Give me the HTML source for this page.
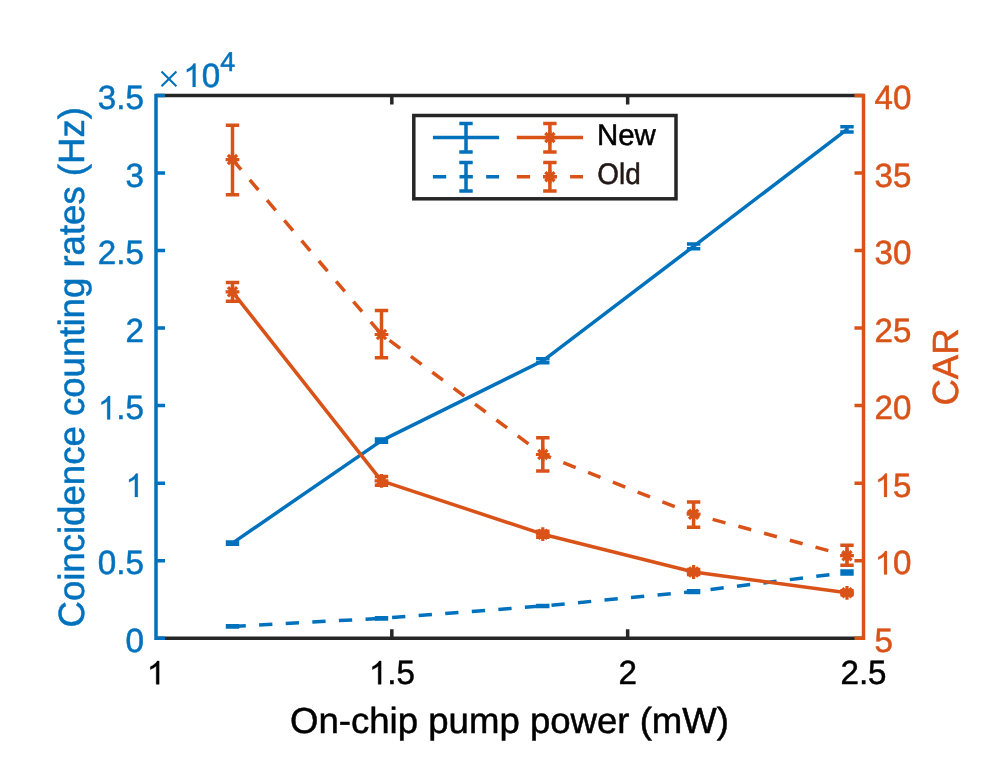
<!DOCTYPE html><html><head><meta charset="utf-8"><title>chart</title><style>html,body{margin:0;padding:0;background:#fff}svg{display:block;will-change:transform}text{font-family:"Liberation Sans",sans-serif;stroke-width:0.5px;text-rendering:geometricPrecision}</style></head><body>
<svg width="996" height="771" viewBox="0 0 996 771">
<rect width="996" height="771" fill="#fff"/>
<polyline points="232.50,543.10 381.50,440.60 542.80,360.80 693.60,246.30 847.00,129.40" stroke="#0072BD" stroke-width="3.5" fill="none" stroke-linejoin="round"/>
<path d="M232.50 542.00V544.20M225.80 542.00H239.20M225.80 544.20H239.20" stroke="#0072BD" stroke-width="3.5" fill="none"/>
<path d="M381.50 439.00V442.20M374.80 439.00H388.20M374.80 442.20H388.20" stroke="#0072BD" stroke-width="3.5" fill="none"/>
<path d="M542.80 358.75V362.85M536.10 358.75H549.50M536.10 362.85H549.50" stroke="#0072BD" stroke-width="3.5" fill="none"/>
<path d="M693.60 243.90V248.70M686.90 243.90H700.30M686.90 248.70H700.30" stroke="#0072BD" stroke-width="3.5" fill="none"/>
<path d="M847.00 126.70V132.10M840.30 126.70H853.70M840.30 132.10H853.70" stroke="#0072BD" stroke-width="3.5" fill="none"/>
<polyline points="232.50,626.40 381.50,618.30 542.80,606.00 693.60,591.60 847.00,572.50" stroke="#0072BD" stroke-width="3.5" fill="none" stroke-linejoin="round" stroke-dasharray="13.3 13.34"/>
<path d="M232.50 625.80V627.00M225.80 625.80H239.20M225.80 627.00H239.20" stroke="#0072BD" stroke-width="3.5" fill="none"/>
<path d="M381.50 617.70V618.90M374.80 617.70H388.20M374.80 618.90H388.20" stroke="#0072BD" stroke-width="3.5" fill="none"/>
<path d="M542.80 605.40V606.60M536.10 605.40H549.50M536.10 606.60H549.50" stroke="#0072BD" stroke-width="3.5" fill="none"/>
<path d="M693.60 590.80V592.40M686.90 590.80H700.30M686.90 592.40H700.30" stroke="#0072BD" stroke-width="3.5" fill="none"/>
<path d="M847.00 571.00V574.00M840.30 571.00H853.70M840.30 574.00H853.70" stroke="#0072BD" stroke-width="3.5" fill="none"/>
<polyline points="232.50,291.80 381.50,480.80 542.80,534.20 693.60,572.00 847.00,592.80" stroke="#D95319" stroke-width="3.5" fill="none" stroke-linejoin="round"/>
<path d="M232.50 282.40V301.20M225.80 282.40H239.20M225.80 301.20H239.20" stroke="#D95319" stroke-width="3.5" fill="none"/>
<path d="M225.60 291.80L239.40 291.80M227.90 287.20L237.10 296.40M232.50 284.90L232.50 298.70M237.10 287.20L227.90 296.40" stroke="#D95319" stroke-width="3.2" fill="none"/>
<path d="M381.50 476.45V485.15M374.80 476.45H388.20M374.80 485.15H388.20" stroke="#D95319" stroke-width="3.5" fill="none"/>
<path d="M374.60 480.80L388.40 480.80M376.90 476.20L386.10 485.40M381.50 473.90L381.50 487.70M386.10 476.20L376.90 485.40" stroke="#D95319" stroke-width="3.2" fill="none"/>
<path d="M542.80 531.20V537.20M536.10 531.20H549.50M536.10 537.20H549.50" stroke="#D95319" stroke-width="3.5" fill="none"/>
<path d="M535.90 534.20L549.70 534.20M538.20 529.60L547.40 538.80M542.80 527.30L542.80 541.10M547.40 529.60L538.20 538.80" stroke="#D95319" stroke-width="3.2" fill="none"/>
<path d="M693.60 569.50V574.50M686.90 569.50H700.30M686.90 574.50H700.30" stroke="#D95319" stroke-width="3.5" fill="none"/>
<path d="M686.70 572.00L700.50 572.00M689.00 567.40L698.20 576.60M693.60 565.10L693.60 578.90M698.20 567.40L689.00 576.60" stroke="#D95319" stroke-width="3.2" fill="none"/>
<path d="M847.00 590.80V594.80M840.30 590.80H853.70M840.30 594.80H853.70" stroke="#D95319" stroke-width="3.5" fill="none"/>
<path d="M840.10 592.80L853.90 592.80M842.40 588.20L851.60 597.40M847.00 585.90L847.00 599.70M851.60 588.20L842.40 597.40" stroke="#D95319" stroke-width="3.2" fill="none"/>
<polyline points="232.50,159.60 381.50,334.50 542.80,454.50 693.60,514.20 847.00,555.70" stroke="#D95319" stroke-width="3.5" fill="none" stroke-linejoin="round" stroke-dasharray="13.3 13.34"/>
<path d="M232.50 125.20V194.70M225.80 125.20H239.20M225.80 194.70H239.20" stroke="#D95319" stroke-width="3.5" fill="none"/>
<path d="M225.60 159.60L239.40 159.60M227.90 155.00L237.10 164.20M232.50 152.70L232.50 166.50M237.10 155.00L227.90 164.20" stroke="#D95319" stroke-width="3.2" fill="none"/>
<path d="M381.50 310.50V357.80M374.80 310.50H388.20M374.80 357.80H388.20" stroke="#D95319" stroke-width="3.5" fill="none"/>
<path d="M374.60 334.50L388.40 334.50M376.90 329.90L386.10 339.10M381.50 327.60L381.50 341.40M386.10 329.90L376.90 339.10" stroke="#D95319" stroke-width="3.2" fill="none"/>
<path d="M542.80 437.70V471.00M536.10 437.70H549.50M536.10 471.00H549.50" stroke="#D95319" stroke-width="3.5" fill="none"/>
<path d="M535.90 454.50L549.70 454.50M538.20 449.90L547.40 459.10M542.80 447.60L542.80 461.40M547.40 449.90L538.20 459.10" stroke="#D95319" stroke-width="3.2" fill="none"/>
<path d="M693.60 502.00V527.30M686.90 502.00H700.30M686.90 527.30H700.30" stroke="#D95319" stroke-width="3.5" fill="none"/>
<path d="M686.70 514.20L700.50 514.20M689.00 509.60L698.20 518.80M693.60 507.30L693.60 521.10M698.20 509.60L689.00 518.80" stroke="#D95319" stroke-width="3.2" fill="none"/>
<path d="M847.00 545.30V565.30M840.30 545.30H853.70M840.30 565.30H853.70" stroke="#D95319" stroke-width="3.5" fill="none"/>
<path d="M840.10 555.70L853.90 555.70M842.40 551.10L851.60 560.30M847.00 548.80L847.00 562.60M851.60 551.10L842.40 560.30" stroke="#D95319" stroke-width="3.2" fill="none"/>
<path d="M156.0 638.2H863.5M156.0 95.5H863.5" stroke="#262626" stroke-width="3.5" fill="none"/>
<path d="M391.83 638.2V629.2M391.83 95.5V104.5M627.67 638.2V629.2M627.67 95.5V104.5" stroke="#262626" stroke-width="3.5" fill="none"/>
<path d="M156.0 639.95V93.75M156.0 638.20H165.0M156.0 560.67H165.0M156.0 483.14H165.0M156.0 405.61H165.0M156.0 328.09H165.0M156.0 250.56H165.0M156.0 173.03H165.0M156.0 95.50H165.0" stroke="#0072BD" stroke-width="3.5" fill="none"/>
<path d="M863.5 639.95V93.75M863.5 638.20H854.5M863.5 560.67H854.5M863.5 483.14H854.5M863.5 405.61H854.5M863.5 328.09H854.5M863.5 250.56H854.5M863.5 173.03H854.5M863.5 95.50H854.5" stroke="#D95319" stroke-width="3.5" fill="none"/>
<g transform="translate(143.90 652.00) scale(1 1.015)" fill="#0072BD" stroke="#0072BD" stroke-width="0.25"><text font-size="33.2"><tspan x="-18.47">0</tspan></text></g>
<g transform="translate(143.90 574.47) scale(1 1.015)" fill="#0072BD" stroke="#0072BD" stroke-width="0.25"><text font-size="33.2"><tspan x="-46.15">0.5</tspan></text></g>
<g transform="translate(143.90 496.94) scale(1 1.015)" fill="#0072BD" stroke="#0072BD" stroke-width="0.25"><path transform="translate(-18.47 0) scale(0.01621 -0.01564)" d="M763 0H583V1147Q518 1085 412.5 1023T223 930V1104Q374 1175 487 1276T647 1472H763Z" vector-effect="non-scaling-stroke"/></g>
<g transform="translate(143.90 419.41) scale(1 1.015)" fill="#0072BD" stroke="#0072BD" stroke-width="0.25"><text font-size="33.2"><tspan x="-27.69">.5</tspan></text><path transform="translate(-46.15 0) scale(0.01621 -0.01564)" d="M763 0H583V1147Q518 1085 412.5 1023T223 930V1104Q374 1175 487 1276T647 1472H763Z" vector-effect="non-scaling-stroke"/></g>
<g transform="translate(143.90 341.89) scale(1 1.015)" fill="#0072BD" stroke="#0072BD" stroke-width="0.25"><text font-size="33.2"><tspan x="-18.47">2</tspan></text></g>
<g transform="translate(143.90 264.36) scale(1 1.015)" fill="#0072BD" stroke="#0072BD" stroke-width="0.25"><text font-size="33.2"><tspan x="-46.15">2.5</tspan></text></g>
<g transform="translate(143.90 186.83) scale(1 1.015)" fill="#0072BD" stroke="#0072BD" stroke-width="0.25"><text font-size="33.2"><tspan x="-18.47">3</tspan></text></g>
<g transform="translate(143.90 109.30) scale(1 1.015)" fill="#0072BD" stroke="#0072BD" stroke-width="0.25"><text font-size="33.2"><tspan x="-46.15">3.5</tspan></text></g>
<g transform="translate(874.60 652.00) scale(1 1.015)" fill="#D95319" stroke="#D95319" stroke-width="0.25"><text font-size="33.2"><tspan x="0.00">5</tspan></text></g>
<g transform="translate(874.60 574.47) scale(1 1.015)" fill="#D95319" stroke="#D95319" stroke-width="0.25"><text font-size="33.2"><tspan x="18.47">0</tspan></text><path transform="translate(0.00 0) scale(0.01621 -0.01564)" d="M763 0H583V1147Q518 1085 412.5 1023T223 930V1104Q374 1175 487 1276T647 1472H763Z" vector-effect="non-scaling-stroke"/></g>
<g transform="translate(874.60 496.94) scale(1 1.015)" fill="#D95319" stroke="#D95319" stroke-width="0.25"><text font-size="33.2"><tspan x="18.47">5</tspan></text><path transform="translate(0.00 0) scale(0.01621 -0.01564)" d="M763 0H583V1147Q518 1085 412.5 1023T223 930V1104Q374 1175 487 1276T647 1472H763Z" vector-effect="non-scaling-stroke"/></g>
<g transform="translate(874.60 419.41) scale(1 1.015)" fill="#D95319" stroke="#D95319" stroke-width="0.25"><text font-size="33.2"><tspan x="0.00">20</tspan></text></g>
<g transform="translate(874.60 341.89) scale(1 1.015)" fill="#D95319" stroke="#D95319" stroke-width="0.25"><text font-size="33.2"><tspan x="0.00">25</tspan></text></g>
<g transform="translate(874.60 264.36) scale(1 1.015)" fill="#D95319" stroke="#D95319" stroke-width="0.25"><text font-size="33.2"><tspan x="0.00">30</tspan></text></g>
<g transform="translate(874.60 186.83) scale(1 1.015)" fill="#D95319" stroke="#D95319" stroke-width="0.25"><text font-size="33.2"><tspan x="0.00">35</tspan></text></g>
<g transform="translate(874.60 109.30) scale(1 1.015)" fill="#D95319" stroke="#D95319" stroke-width="0.25"><text font-size="33.2"><tspan x="0.00">40</tspan></text></g>
<g transform="translate(156.00 684.30) scale(1 1.015)" fill="#000" stroke="#000" stroke-width="0.35"><path transform="translate(-9.23 0) scale(0.01621 -0.01564)" d="M763 0H583V1147Q518 1085 412.5 1023T223 930V1104Q374 1175 487 1276T647 1472H763Z" vector-effect="non-scaling-stroke"/></g>
<g transform="translate(391.83 684.30) scale(1 1.015)" fill="#000" stroke="#000" stroke-width="0.35"><text font-size="33.2"><tspan x="-4.61">.5</tspan></text><path transform="translate(-23.08 0) scale(0.01621 -0.01564)" d="M763 0H583V1147Q518 1085 412.5 1023T223 930V1104Q374 1175 487 1276T647 1472H763Z" vector-effect="non-scaling-stroke"/></g>
<g transform="translate(627.67 684.30) scale(1 1.015)" fill="#000" stroke="#000" stroke-width="0.35"><text font-size="33.2"><tspan x="-9.23">2</tspan></text></g>
<g transform="translate(863.50 684.30) scale(1 1.015)" fill="#000" stroke="#000" stroke-width="0.35"><text font-size="33.2"><tspan x="-23.08">2.5</tspan></text></g>
<path d="M161.5 71.5L176.4 86.3M161.5 86.3L176.4 71.5" stroke="#0072BD" stroke-width="2.1" fill="none"/>
<g transform="translate(183.20 86.90) scale(1 1.015)" fill="#0072BD" stroke="#0072BD" stroke-width="0.25"><text font-size="33.2"><tspan x="18.47">0</tspan></text><path transform="translate(0.00 0) scale(0.01621 -0.01564)" d="M763 0H583V1147Q518 1085 412.5 1023T223 930V1104Q374 1175 487 1276T647 1472H763Z" vector-effect="non-scaling-stroke"/></g>
<text transform="translate(220.30 70.60) scale(1 1.015)" font-size="27" fill="#0072BD" stroke="#0072BD" stroke-width="0.25">4</text>
<text transform="translate(509.50 733.40) scale(1 0.99)" font-size="36.6" fill="#000" stroke="#000" stroke-width="0.35" text-anchor="middle">On-chip pump power (mW)</text>
<text transform="translate(84.00 367.30) rotate(-90) scale(1 0.995)" font-size="36.6" fill="#0072BD" stroke="#0072BD" stroke-width="0.25" text-anchor="middle">Coincidence counting rates (Hz)</text>
<text transform="translate(958.00 367.00) rotate(-90) scale(1 0.995)" font-size="36.6" fill="#D95319" stroke="#D95319" stroke-width="0.25" text-anchor="middle">CAR</text>
<rect x="413.8" y="115.5" width="262.20" height="83.30" fill="#fff" stroke="#262626" stroke-width="3.5"/>
<path d="M432.9 137.6H499.09999999999997" stroke="#0072BD" stroke-width="3.5" fill="none"/><path d="M466.00 123.40V152.00M459.30 123.40H472.70M459.30 152.00H472.70" stroke="#0072BD" stroke-width="3.5" fill="none"/>
<path d="M432.9 176.65H499.09999999999997" stroke="#0072BD" stroke-width="3.5" fill="none" stroke-dasharray="13.3 13.34"/><path d="M466.00 162.45V191.05M459.30 162.45H472.70M459.30 191.05H472.70" stroke="#0072BD" stroke-width="3.5" fill="none"/>
<path d="M516.8 137.6H583.0" stroke="#D95319" stroke-width="3.5" fill="none"/><path d="M549.90 123.40V152.00M543.20 123.40H556.60M543.20 152.00H556.60" stroke="#D95319" stroke-width="3.5" fill="none"/><path d="M543.00 137.60L556.80 137.60M545.30 133.00L554.50 142.20M549.90 130.70L549.90 144.50M554.50 133.00L545.30 142.20" stroke="#D95319" stroke-width="3.2" fill="none"/>
<path d="M516.8 176.65H583.0" stroke="#D95319" stroke-width="3.5" fill="none" stroke-dasharray="13.3 13.34"/><path d="M549.90 162.45V191.05M543.20 162.45H556.60M543.20 191.05H556.60" stroke="#D95319" stroke-width="3.5" fill="none"/><path d="M543.00 176.65L556.80 176.65M545.30 172.05L554.50 181.25M549.90 169.75L549.90 183.55M554.50 172.05L545.30 181.25" stroke="#D95319" stroke-width="3.2" fill="none"/>
<text transform="translate(597.00 145.20) scale(1 1.015)" font-size="29.4" fill="#000" stroke="#000" stroke-width="0.35">New</text>
<text transform="translate(597.30 184.00) scale(0.955 1.015)" font-size="29.2" fill="#231815" stroke="#231815" stroke-width="0.35">Old</text>
</svg></body></html>
